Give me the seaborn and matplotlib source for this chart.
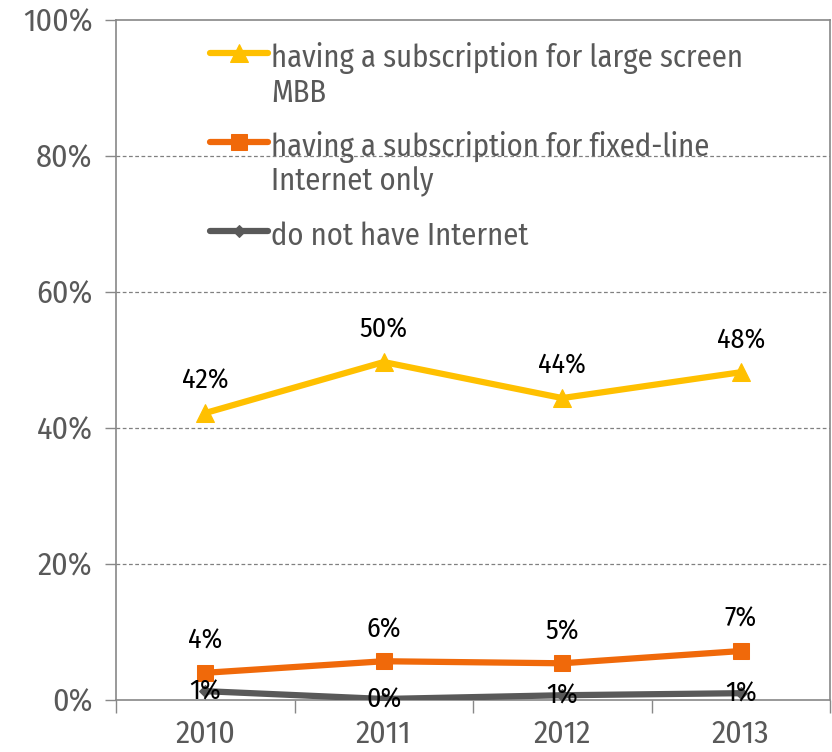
import matplotlib
matplotlib.use("Agg")
import matplotlib.pyplot as plt
import seaborn as sns
import pandas as pd

years = ["2010", "2011", "2012", "2013"]
mbb = [42.2, 49.7, 44.4, 48.2]
fixed = [4.0, 5.7, 5.4, 7.2]
no_internet = [1.3, 0.15, 0.7, 1.0]
mbb_labels = ["42%", "50%", "44%", "48%"]
fixed_labels = ["4%", "6%", "5%", "7%"]
none_labels = ["1%", "0%", "1%", "1%"]
series_names = ["having a subscription for large screen\nMBB",
                "having a subscription for fixed-line\nInternet only",
                "do not have Internet"]
yticks = [0, 20, 40, 60, 80, 100]

sns.set_theme(style="white")
plt.rcParams["font.family"] = ["Fira Sans Condensed", "Roboto Condensed", "Liberation Sans", "DejaVu Sans"]

rows = []
for name, vals in zip(series_names, [mbb, fixed, no_internet]):
    for i, v in enumerate(vals):
        rows.append({"x": i, "y": v, "series": name})
df = pd.DataFrame(rows)

colors = ["#FFC000", "#F0690A", "#595959"]
markers = ["^", "s", "D"]
msizes = [13, 12, 6]
lws = [4.5, 4.5, 4.5]

fig = plt.figure(figsize=(8.32, 7.52), dpi=100)
ax = fig.add_axes([116/832, 1-700/752, 714/832, 680/752])

for name, c, m, ms, lw in zip(series_names, colors, markers, msizes, lws):
    sub = df[df["series"] == name]
    sns.lineplot(data=sub, x="x", y="y", ax=ax, color=c, marker=m, markersize=ms,
                 markeredgecolor=c, linewidth=lw, label=name, zorder=3,
                 solid_capstyle="round")

lab_kw = dict(ha="center", va="center", fontsize=20, color="black")
for i in range(4):
    ax.text(i, mbb[i] + 4.7, mbb_labels[i], **lab_kw)
    ax.text(i, fixed[i] + 4.7, fixed_labels[i], **lab_kw)
    ax.text(i, no_internet[i] - 0.1, none_labels[i], zorder=5, **lab_kw)

ax.set_xlim(-0.5, 3.5)
ax.set_ylim(0, 100)
ax.set_yticks(yticks)
ax.set_yticklabels([f"{t}%" for t in yticks], fontsize=23, color="#595959")
ax.set_xticks(range(4))
ax.set_xticklabels(years, fontsize=23, color="#595959")
ax.tick_params(axis="x", length=0, pad=14)
ax.tick_params(axis="y", length=8, width=1, color="#888888", direction="out", pad=9, left=True)
ax.set_xticks([-0.5, 0.5, 1.5, 2.5, 3.5], minor=True)
ax.tick_params(axis="x", which="minor", length=9, width=1, color="#888888", direction="out", bottom=True)

for y in [20, 40, 60, 80]:
    ax.axhline(y, color="#808080", linestyle=(0, (3, 2)), linewidth=0.9, zorder=1)

for side in ["left", "top", "right", "bottom"]:
    ax.spines[side].set_color("#888888")
    ax.spines[side].set_linewidth(1.2)
ax.set_xlabel("")
ax.set_ylabel("")

leg = ax.legend(loc="upper left", bbox_to_anchor=(0.115, 0.985), frameon=False,
                fontsize=22, labelcolor="#595959", handlelength=1.9, handletextpad=0.1,
                labelspacing=0.76, borderaxespad=0)
for t in leg.get_texts():
    t.set_linespacing(1.145)
try:
    for col in leg._legend_handle_box.get_children():
        for row in col.get_children():
            row.align = "top"
except Exception:
    pass

fig.savefig("out.png", dpi=100)
